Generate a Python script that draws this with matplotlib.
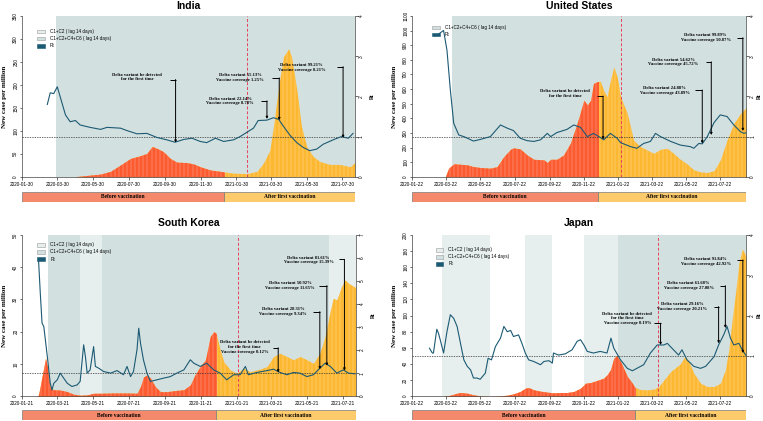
import numpy as np
import pandas as pd
import matplotlib
matplotlib.use('Agg')
import matplotlib.pyplot as plt
from matplotlib.patches import Patch, Rectangle

# values; x is days since each country's first date

# India
india_start = '2020-01-30'
india_case_day = [0, 88, 134, 151, 173, 185, 202, 213, 222, 230, 241, 253, 264, 281, 293, 304, 321, 338,
                  361, 384, 401, 412, 423, 429, 438, 446, 455, 460, 469, 477, 486, 497, 509, 526, 543, 560, 568]
india_cases = [0, 0, 6, 12, 30, 40, 46, 51, 66, 62, 55, 40, 32, 31, 28, 22, 15, 12,
               8, 7, 12, 30, 58, 109, 196, 261, 279, 261, 189, 109, 66, 44, 33, 27, 27, 22, 31]
india_rt_day = [43, 48, 54, 60, 65, 74, 82, 91, 99, 116, 134, 145, 168, 179, 196, 213, 230, 247, 261, 276,
                290, 304, 315, 330, 344, 361, 372, 384, 395, 403, 418, 429, 438, 446, 457, 469, 480, 491,
                503, 514, 531, 545, 557, 565]
india_rt = [1.80, 2.09, 2.07, 2.24, 1.99, 1.54, 1.37, 1.40, 1.29, 1.23, 1.18, 1.23, 1.21, 1.15, 1.07, 1.08,
            0.98, 0.92, 0.86, 0.93, 0.96, 0.88, 0.85, 0.96, 0.88, 0.92, 1.00, 1.11, 1.21, 1.40, 1.41, 1.47,
            1.43, 1.26, 1.04, 0.85, 0.73, 0.65, 0.69, 0.81, 0.92, 1.00, 0.96, 1.08]
india_c12 = []
india_c1246 = [(58, 568)]

# United States
us_start = '2020-01-22'
us_case_day = [0, 59, 65, 74, 86, 98, 109, 121, 139, 151, 163, 175, 180, 192, 204, 216, 234, 240, 246, 257,
               269, 281, 293, 305, 311, 317, 322, 328, 334, 340, 346, 352, 358, 364, 370, 382, 393, 405,
               417, 429, 441, 453, 464, 476, 488, 500, 512, 524, 536, 547, 559, 571, 583, 593]
us_cases = [0, 0, 59, 89, 86, 82, 70, 64, 59, 70, 139, 189, 198, 191, 150, 120, 116, 98, 120, 120,
            150, 230, 366, 525, 491, 525, 639, 650, 655, 593, 548, 661, 752, 684, 548, 434, 252, 207,
            184, 161, 189, 195, 161, 120, 89, 48, 34, 30, 43, 116, 252, 366, 434, 475]
us_rt_day = [41, 47, 56, 62, 68, 74, 83, 92, 109, 121, 139, 157, 169, 180, 192, 204, 216, 228, 240, 246,
             257, 275, 287, 299, 311, 322, 334, 340, 352, 364, 370, 388, 399, 411, 423, 432, 441, 459,
             476, 494, 500, 509, 515, 524, 536, 547, 559, 571, 583, 589, 593]
us_rt = [3.50, 3.55, 3.64, 3.15, 2.16, 1.33, 1.04, 1.00, 0.89, 0.93, 1.00, 1.29, 1.21, 1.15, 0.96, 0.90,
         0.88, 0.92, 1.08, 1.00, 1.10, 1.18, 1.29, 1.23, 1.00, 1.08, 0.98, 0.92, 1.08, 0.96, 0.85, 0.75,
         0.71, 0.83, 0.88, 1.08, 1.00, 0.88, 0.79, 0.75, 0.71, 0.83, 0.82, 1.00, 1.35, 1.54, 1.50, 1.29,
         1.12, 1.08, 1.10]
us_c12 = []
us_c1246 = [(71, 593)]

# South Korea
kr_start = '2020-01-21'
kr_case_day = [0, 26, 28, 34, 40, 43, 48, 54, 65, 77, 88, 99, 111, 122, 134, 156, 179, 196, 202, 207,
               213, 219, 227, 236, 247, 264, 276, 287, 295, 304, 313, 321, 327, 331, 338, 344, 355, 366,
               378, 389, 406, 418, 429, 440, 452, 463, 474, 486, 497, 508, 517, 526, 531, 537, 545, 551,
               557, 562, 569]
kr_cases = [0, 0, 0.4, 6.1, 11.8, 9.2, 2.5, 2.0, 1.9, 1.4, 0.6, 0.3, 0.4, 0.9, 0.9, 1.0, 1.0, 0.9, 3.0, 5.9,
            6.6, 5.6, 3.0, 1.4, 1.4, 1.8, 2.0, 3.5, 6.6, 9.2, 11.3, 18.5, 20.0, 19.5, 14.4, 10.7, 8.2, 7.1,
            8.7, 7.6, 8.4, 9.2, 12.3, 13.3, 12.3, 11.3, 12.3, 11.3, 10.2, 13.3, 18.5, 26.8, 30.4, 29.9,
            34.0, 36.1, 35.0, 34.5, 33.7]
kr_rt_day = [28, 31, 34, 37, 43, 48, 51, 54, 60, 65, 71, 77, 85, 94, 99, 105, 108, 111, 116, 122, 125, 131,
             139, 151, 162, 173, 179, 185, 190, 196, 199, 202, 207, 213, 219, 230, 241, 253, 264, 276, 287,
             293, 304, 315, 327, 338, 349, 361, 372, 381, 386, 401, 418, 429, 440, 452, 463, 474, 486, 497,
             508, 517, 526, 537, 548, 557, 568]
kr_rt = [5.91, 4.47, 3.17, 3.02, 1.72, 0.56, 0.27, 0.56, 0.71, 1.00, 0.78, 0.56, 0.42, 0.49, 0.64, 2.23,
         1.72, 1.00, 1.14, 2.15, 1.29, 1.21, 1.07, 1.00, 1.11, 0.93, 1.29, 0.85, 1.07, 2.01, 2.95, 2.30,
         1.58, 1.00, 0.64, 0.71, 0.78, 0.85, 1.00, 1.14, 1.58, 1.43, 1.29, 1.43, 1.14, 1.00, 0.71, 0.93,
         0.93, 1.29, 0.93, 1.03, 1.11, 1.17, 1.03, 0.93, 1.03, 1.00, 0.85, 0.93, 1.21, 1.43, 1.29, 1.00,
         1.14, 1.00, 0.97]
kr_c12 = [(99, 136), (524, 569)]
kr_c1246 = [(44, 99), (136, 524)]

# Japan
jp_start = '2020-01-22'
jp_case_day = [0, 56, 68, 80, 86, 98, 109, 121, 139, 157, 169, 180, 192, 201, 207, 216, 228, 240, 251, 263,
               275, 287, 299, 308, 317, 328, 340, 346, 352, 358, 363, 370, 382, 391, 395, 405, 417, 429,
               438, 447, 459, 470, 476, 482, 485, 491, 500, 512, 524, 536, 547, 556, 562, 568, 574, 580,
               586, 590, 593]
jp_cases = [0, 0, 1.2, 3.7, 4.5, 3.7, 1.7, 0.4, 0, 0.4, 1.2, 2.9, 5.8, 9.9, 10.7, 7.9, 6.2, 5.0, 4.1, 4.5,
            4.5, 5.8, 9.9, 16.1, 16.9, 19.4, 22.3, 26.4, 32.6, 47.1, 50.4, 43.0, 24.4, 16.1, 11.2, 8.3, 7.9,
            8.7, 12.0, 20.2, 30.6, 36.8, 40.1, 47.1, 49.2, 43.0, 28.5, 16.1, 12.0, 12.0, 16.1, 32.6, 57.4,
            94.6, 127.7, 164.9, 182.6, 177.3, 171.1]
jp_rt_day = [31, 36, 38, 44, 47, 50, 56, 62, 68, 74, 80, 86, 92, 98, 104, 109, 115, 121, 130, 135, 141, 148,
             157, 163, 169, 175, 180, 189, 195, 201, 207, 216, 228, 234, 243, 249, 251, 260, 272, 284, 293,
             299, 305, 311, 322, 334, 346, 353, 358, 370, 382, 391, 399, 411, 423, 435, 447, 453, 464, 473,
             479, 488, 500, 512, 521, 536, 544, 553, 559, 565, 571, 580, 586, 593]
jp_rt = [1.19, 1.07, 1.07, 1.66, 1.56, 1.40, 1.07, 1.60, 2.02, 1.93, 1.73, 1.31, 0.90, 0.74, 0.65, 0.45,
         0.45, 0.42, 0.57, 0.94, 0.90, 1.23, 1.44, 1.73, 1.60, 1.63, 1.48, 1.52, 1.31, 1.07, 0.90, 0.86,
         0.78, 0.86, 0.88, 0.82, 1.07, 1.02, 1.05, 1.15, 1.36, 1.40, 1.27, 1.11, 1.07, 1.11, 1.07, 1.44,
         1.19, 0.90, 0.69, 0.63, 0.69, 0.78, 1.07, 1.27, 1.27, 1.31, 1.15, 1.02, 1.15, 0.90, 0.74, 0.69,
         0.74, 0.98, 1.27, 1.52, 1.73, 1.44, 1.27, 1.31, 1.15, 1.00]
jp_c12 = [(54, 138), (201, 248), (306, 366)]
jp_c1246 = [(366, 593)]

# annotations: text, text x, text y (Rt), bracket start x, arrow x, bracket y, arrow tip y
india_notes = [
    ('Delta variant be detected\nfor the first time', 196, 2.48, 253, 262, 2.42, 0.85),
    ('Delta variant 22.14%\nVaccine coverage 8.78%', 355, 1.89, 408, 418, 1.89, 1.44),
    ('Delta variant 55.13%\nVaccine coverage 1.25%', 372, 2.47, 427, 439, 2.46, 1.41),
    ('Delta variant 99.21%\nVaccine coverage 8.21%', 477, 2.72, 537, 548, 2.74, 0.97),
]
us_notes = [
    ('Delta variant be detected\nfor the first time', 272, 2.07, 328, 339, 2.01, 0.93),
    ('Delta variant 24.88%\nVaccine coverage 43.89%', 448, 2.14, 503, 515, 2.16, 0.83),
    ('Delta variant 54.62%\nVaccine coverage 45.72%', 464, 2.86, 521, 531, 2.86, 1.04),
    ('Delta variant 99.89%\nVaccine coverage 50.87%', 521, 3.46, 577, 587, 3.46, 1.14),
]
kr_notes = [
    ('Delta variant be detected\nfor the first time\nVaccine coverage 0.12%', 380, 2.13, 428, 437, 2.10, 1.03),
    ('Delta variant 28.31%\nVaccine coverage 9.34%', 445, 3.67, 497, 508, 3.67, 1.17),
    ('Delta variant 50.92%\nVaccine coverage 11.65%', 457, 4.80, 507, 520, 4.80, 1.32),
    ('Delta variant 81.61%\nVaccine coverage 15.39%', 489, 5.91, 540, 550, 5.94, 1.11),
]
jp_notes = [
    ('Delta variant be detected\nfor the first time\nVaccine coverage 0.19%', 382, 1.93, 430, 441, 1.81, 1.27),
    ('Delta variant 29.16%\nVaccine coverage 20.21%', 479, 2.22, 536, 544, 2.22, 1.31),
    ('Delta variant 61.68%\nVaccine coverage 27.08%', 491, 2.74, 547, 556, 2.74, 1.69),
    ('Delta variant 91.84%\nVaccine coverage 42.92%', 521, 3.34, 577, 587, 3.38, 1.07),
]

C_BEFORE = '#FC5A2F'
C_AFTER = '#FDB831'
C_BAR_BEFORE = '#F4896C'
C_BAR_AFTER = '#FDCB6C'
C_LIGHT = '#E6EEEE'
C_DARK = '#D3E0E0'
C_RT = '#1C5A73'
SANS = 'Liberation Sans'
SERIF = 'Liberation Serif'


def draw_panel(fig, rect, bar_rect, title, title_xy, start, end_day, case_day, cases, rt_day, rt,
               vax_day, dash_day, c12, c1246, ymax, ystep, rtmax, notes, show_c12, leg_anchor, rt_lab_x):
    ax = fig.add_axes(rect)
    ax.set_xlim(0, end_day)
    ax.set_ylim(0, ymax)
    for a, b in c12:
        ax.axvspan(a, b, color=C_LIGHT, lw=0, zorder=0)
    for a, b in c1246:
        ax.axvspan(a, b, color=C_DARK, lw=0, zorder=0)

    after = ax.fill_between(case_day, 0, cases, color=C_AFTER, lw=0, zorder=1)
    before = ax.fill_between(case_day, 0, cases, color=C_BEFORE, lw=0, zorder=1.1)
    before.set_clip_path(Rectangle((0, 0), vax_day, ymax, transform=ax.transData))
    stripes = ax.vlines(np.arange(4, end_day, 7), 0, ymax, colors='white', lw=0.3, alpha=0.6, zorder=1.2)
    stripes.set_clip_path(after.get_paths()[0], ax.transData)
    ax.axvline(dash_day, color='#E8405A', ls=(0, (3, 2)), lw=0.7, zorder=2)

    # ticks
    s = pd.Timestamp(start)
    tick_dates = [s + pd.DateOffset(months=2 * i) for i in range(10)]
    ax.set_xticks([(d - s).days for d in tick_dates])
    ax.set_xticklabels([d.strftime('%Y-%m-%d') for d in tick_dates], fontsize=3.4, family=SANS)
    ax.set_yticks(np.arange(0, ymax + 1, ystep))
    ax.tick_params(axis='y', labelsize=3.4, labelrotation=90, length=1.8, width=0.4, pad=1)
    ax.tick_params(axis='x', length=1.8, width=0.4, pad=2)
    for lab in ax.get_yticklabels():
        lab.set_family(SANS)
        lab.set_va('center')
    ax.set_ylabel('New case per million', fontsize=5, family=SERIF, fontweight='bold')
    ax.yaxis.set_label_coords(-0.045, 0.5)
    ax.spines['top'].set_visible(False)
    ax.spines['right'].set_visible(False)
    for sp in ('left', 'bottom'):
        ax.spines[sp].set_linewidth(0.5)
        ax.spines[sp].set_color('#444444')

    ax2 = ax.twinx()
    ax2.set_ylim(0, rtmax)
    ax2.set_yticks(range(rtmax + 1))
    ax2.tick_params(axis='y', labelsize=3.4, labelrotation=90, length=1.8, width=0.4, pad=1)
    for lab in ax2.get_yticklabels():
        lab.set_family(SANS)
        lab.set_va('center')
    for sp in ('top', 'left', 'bottom'):
        ax2.spines[sp].set_visible(False)
    ax2.spines['right'].set_linewidth(0.5)
    ax2.spines['right'].set_color('#444444')
    ax2.set_ylabel('Rt', fontsize=4, family=SERIF, fontweight='bold')
    ax2.yaxis.set_label_coords(rt_lab_x, 0.5)
    ax2.axhline(1, color='#333333', ls=(0, (2, 1.5)), lw=0.5)
    ax2.plot(rt_day, rt, color=C_RT, lw=0.8)

    for txt, tx, ty, x0, xa, yb, yt in notes:
        ax2.text(tx, ty, txt, ha='center', va='center', fontsize=3.3, family=SERIF,
                 fontweight='bold', linespacing=1.2)
        ax2.plot([x0, xa], [yb, yb], color='black', lw=0.7, solid_capstyle='butt')
        ax2.annotate('', xy=(xa, yt), xytext=(xa, yb),
                     arrowprops=dict(arrowstyle='-|>', color='black', lw=0.7,
                                     mutation_scale=3, shrinkA=0, shrinkB=0))

    handles = []
    if show_c12:
        handles.append(Patch(facecolor=C_LIGHT, edgecolor='#999999', lw=0.4, label='C1+C2 ( lag 14 days)'))
    handles.append(Patch(facecolor=C_DARK, edgecolor='#999999', lw=0.4, label='C1+C2+C4+C6 ( lag 14 days)'))
    handles.append(Patch(facecolor=C_RT, edgecolor=C_RT, lw=0.4, label='Rt'))
    ax2.legend(handles=handles, loc='upper left', bbox_to_anchor=leg_anchor, frameon=False,
               prop={'family': SANS, 'size': 3.3}, handlelength=1.6, handleheight=0.9,
               handletextpad=1.2, labelspacing=0.45, borderaxespad=0)

    fig.text(title_xy[0], title_xy[1], title, ha='center', va='center', fontsize=7.5,
             family=SANS, fontweight='bold')

    # vaccination phase bar
    axb = fig.add_axes(bar_rect)
    axb.set_xlim(0, end_day)
    axb.set_ylim(0, 1)
    axb.axis('off')
    axb.add_patch(Rectangle((0, 0), vax_day, 1, facecolor=C_BAR_BEFORE, edgecolor='#7a7a7a', lw=0.5))
    axb.add_patch(Rectangle((vax_day, 0), end_day - vax_day, 1, facecolor=C_BAR_AFTER,
                            edgecolor='#7a7a7a', lw=0.5))
    axb.text(vax_day / 2, 0.5, 'Before vaccination', ha='center', va='center', fontsize=4,
             family=SERIF, fontweight='bold')
    axb.text((vax_day + end_day) / 2, 0.5, 'After first vaccination', ha='center', va='center',
             fontsize=4, family=SERIF, fontweight='bold')


def main():
    fig = plt.figure(figsize=(7.63, 4.21), dpi=100)
    draw_panel(fig, [0.029, 0.580, 0.436, 0.382], [0.029, 0.521, 0.436, 0.023], 'India', (0.247, 0.986),
               india_start, 568, india_case_day, india_cases, india_rt_day, india_rt,
               345, 384, india_c12, india_c1246, 350, 50, 4, india_notes, True, (0.04, 0.93), 1.045)
    draw_panel(fig, [0.540, 0.580, 0.438, 0.382], [0.540, 0.521, 0.438, 0.023], 'United States', (0.759, 0.986),
               us_start, 593, us_case_day, us_cases, us_rt_day, us_rt,
               330, 371, us_c12, us_c1246, 1100, 100, 4, us_notes, False, (0.055, 0.955), 1.033)
    draw_panel(fig, [0.029, 0.059, 0.437, 0.383], [0.029, 0.002, 0.437, 0.023], 'South Korea', (0.247, 0.47),
               kr_start, 569, kr_case_day, kr_cases, kr_rt_day, kr_rt,
               331, 369, kr_c12, kr_c1246, 50, 10, 7, kr_notes, True, (0.04, 0.965), 1.045)
    draw_panel(fig, [0.540, 0.059, 0.438, 0.383], [0.540, 0.002, 0.438, 0.023], 'Japan', (0.759, 0.47),
               jp_start, 593, jp_case_day, jp_cases, jp_rt_day, jp_rt,
               395, 436, jp_c12, jp_c1246, 200, 20, 4, jp_notes, True, (0.065, 0.935), 1.033)
    fig.savefig('out.png', dpi=100)


if __name__ == "__main__":
    main()
